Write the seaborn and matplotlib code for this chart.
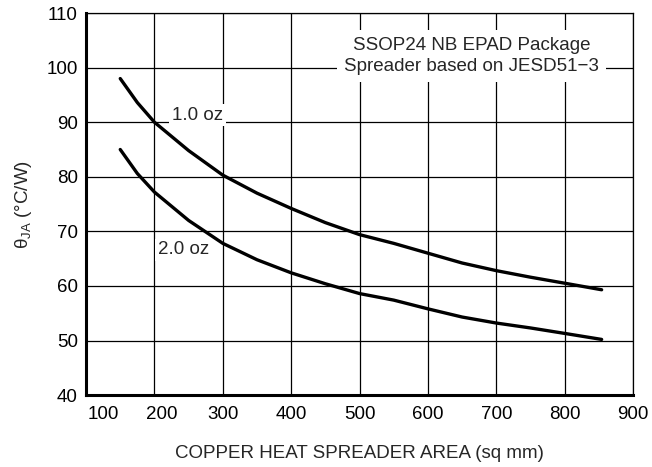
import matplotlib
matplotlib.use("Agg")
import matplotlib.pyplot as plt
import matplotlib.transforms as mtrans
import seaborn as sns
import pandas as pd

# data
area = [150, 175, 200, 250, 300, 350, 400, 450, 500, 550, 600, 650, 700, 750, 800, 854]
theta_1oz = [98.0, 93.6, 90.0, 84.8, 80.3, 77.0, 74.2, 71.6, 69.4, 67.8, 66.0, 64.2, 62.8, 61.6, 60.5, 59.3]
theta_2oz = [85.0, 80.6, 77.2, 72.0, 67.8, 64.8, 62.4, 60.4, 58.6, 57.4, 55.8, 54.3, 53.2, 52.3, 51.3, 50.2]

df = pd.DataFrame({"area": area * 2,
                   "theta": theta_1oz + theta_2oz,
                   "copper": ["1.0 oz"] * len(area) + ["2.0 oz"] * len(area)})

sns.set_style("white")
plt.rcParams["font.family"] = ["Liberation Sans", "DejaVu Sans"]
plt.rcParams["mathtext.fontset"] = "custom"
plt.rcParams["mathtext.rm"] = "Liberation Sans"
plt.rcParams["mathtext.it"] = "Liberation Sans:italic"

fs = 13.5
fig = plt.figure(figsize=(6.52, 4.67), dpi=100)
ax = fig.add_axes([0.132, 0.154, 0.839, 0.818])

sns.lineplot(data=df, x="area", y="theta", units="copper", estimator=None,
             color="black", linewidth=2.4, ax=ax, legend=False)

ax.set_xlim(100, 900)
ax.set_ylim(40, 110)
ax.set_xticks(range(100, 901, 100))
ax.set_yticks(range(40, 111, 10))
ax.grid(True, color="black", linewidth=0.9)
ax.set_axisbelow(True)
ax.tick_params(axis="both", length=0, labelsize=fs, colors="black")
ax.tick_params(axis="x", pad=8)
ax.tick_params(axis="y", pad=6)

# first two x labels sit a bit to the right in the original
for lbl, dx in zip(ax.get_xticklabels()[:2], [17, 7]):
    lbl.set_transform(lbl.get_transform() + mtrans.ScaledTranslation(dx / 100, 0, fig.dpi_scale_trans))

for side in ["left", "bottom"]:
    ax.spines[side].set_linewidth(2.2)
for side in ["top", "right"]:
    ax.spines[side].set_linewidth(0.9)
for s in ax.spines.values():
    s.set_color("black")

ax.set_xlabel("COPPER HEAT SPREADER AREA (sq mm)", fontsize=fs, labelpad=16)
ax.set_ylabel(r"$\mathregular{\theta_{JA}}$ (°C/W)", fontsize=fs, labelpad=9)

box = dict(facecolor="white", edgecolor="none", pad=2)
ax.text(263, 91.3, "1.0 oz", fontsize=fs, ha="center", va="center", bbox=box, zorder=3)
ax.text(242, 66.6, "2.0 oz", fontsize=fs, ha="center", va="center", bbox=box, zorder=3)
ax.text(664, 102.1, "SSOP24 NB EPAD Package\nSpreader based on JESD51\u22123",
        fontsize=fs, ha="center", va="center", linespacing=1.35,
        bbox=dict(facecolor="white", edgecolor="none", pad=5), zorder=3)

fig.savefig("out.png", dpi=100)
